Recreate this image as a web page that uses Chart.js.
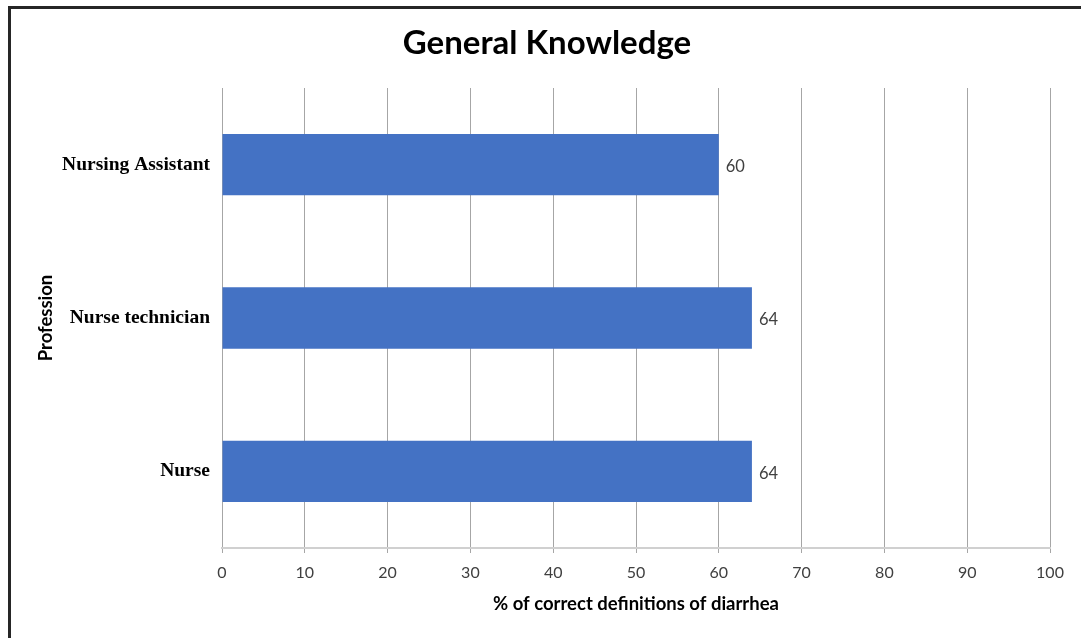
<!DOCTYPE html>
<html>
<head>
<meta charset="utf-8">
<script src="https://cdn.jsdelivr.net/npm/chart.js@4"></script>
<style>
  html, body { margin: 0; padding: 0; background: #ffffff; }
  #wrap { position: relative; width: 1081px; height: 638px; }
  canvas { display: block; }
</style>
</head>
<body>
<div id="wrap"><canvas id="c" width="1081" height="638"></canvas></div>
<script>
const categories = ["Nursing Assistant", "Nurse technician", "Nurse"];
const values = [60, 64, 64];
const xTicks = [0, 10, 20, 30, 40, 50, 60, 70, 80, 90, 100];
const chartTitle = "General Knowledge";
const xAxisTitle = "% of correct definitions of diarrhea";
const yAxisTitle = "Profession";

const framePlugin = {
  id: 'frame',
  beforeDraw(chart) {
    const ctx = chart.ctx;
    ctx.save();
    ctx.fillStyle = '#ffffff';
    ctx.fillRect(0, 0, chart.width, chart.height);
    ctx.fillStyle = '#262626';
    ctx.fillRect(8, 6, 3, chart.height - 6);
    ctx.fillRect(8, 6, chart.width - 8, 3);
    ctx.restore();
  }
};

const valueLabels = {
  id: 'valueLabels',
  afterDatasetsDraw(chart) {
    const ctx = chart.ctx;
    const meta = chart.getDatasetMeta(0);
    ctx.save();
    ctx.font = '16.5px Lato';
    ctx.fillStyle = '#404040';
    ctx.textAlign = 'left';
    ctx.textBaseline = 'middle';
    meta.data.forEach((bar, i) => {
      ctx.fillText(String(chart.data.datasets[0].data[i]), bar.x + 7, bar.y + 2);
    });
    ctx.restore();
  }
};

new Chart(document.getElementById('c'), {
  type: 'bar',
  data: {
    labels: categories,
    datasets: [{
      data: values,
      backgroundColor: '#4472C4',
      borderWidth: 0,
      categoryPercentage: 1.0,
      barPercentage: 0.4
    }]
  },
  options: {
    indexAxis: 'y',
    responsive: false,
    animation: false,
    devicePixelRatio: 1,
    layout: { padding: { left: 44, right: 31, top: 0, bottom: 0 } },
    plugins: {
      legend: { display: false },
      tooltip: { enabled: false },
      title: {
        display: true,
        text: chartTitle,
        color: '#000000',
        font: { family: 'Lato', size: 33, weight: 'bold', lineHeight: 1.2 },
        padding: { top: 24, bottom: 24.4 }
      }
    },
    scales: {
      x: {
        min: 0,
        max: 100,
        afterBuildTicks(scale) { scale.ticks = xTicks.map(v => ({ value: v })); },
        afterFit(scale) { scale.height = 90; },
        grid: { color: '#a6a6a6', lineWidth: 1, drawTicks: true, tickLength: 5, tickColor: '#a6a6a6' },
        border: { display: true, color: '#d0d0d0', width: 2 },
        ticks: { color: '#404040', font: { family: 'Lato', size: 16 }, padding: 10, maxRotation: 0 },
        title: {
          display: true,
          text: xAxisTitle,
          color: '#000000',
          font: { family: 'Lato', size: 18.5, weight: 'bold', lineHeight: 1.2 },
          padding: { top: 4, bottom: 23 }
        }
      },
      y: {
        afterFit(scale) { scale.width = 178; },
        grid: { display: false, drawTicks: false },
        border: { display: false },
        ticks: { color: '#000000', font: { family: 'Liberation Serif', size: 19.5, weight: 'bold' }, padding: 12 },
        title: {
          display: true,
          text: yAxisTitle,
          color: '#000000',
          font: { family: 'Lato', size: 18.5, weight: 'bold', lineHeight: 1.2 },
          padding: { top: -9, bottom: 0 }
        }
      }
    }
  },
  plugins: [framePlugin, valueLabels]
});
</script>
</body>
</html>
